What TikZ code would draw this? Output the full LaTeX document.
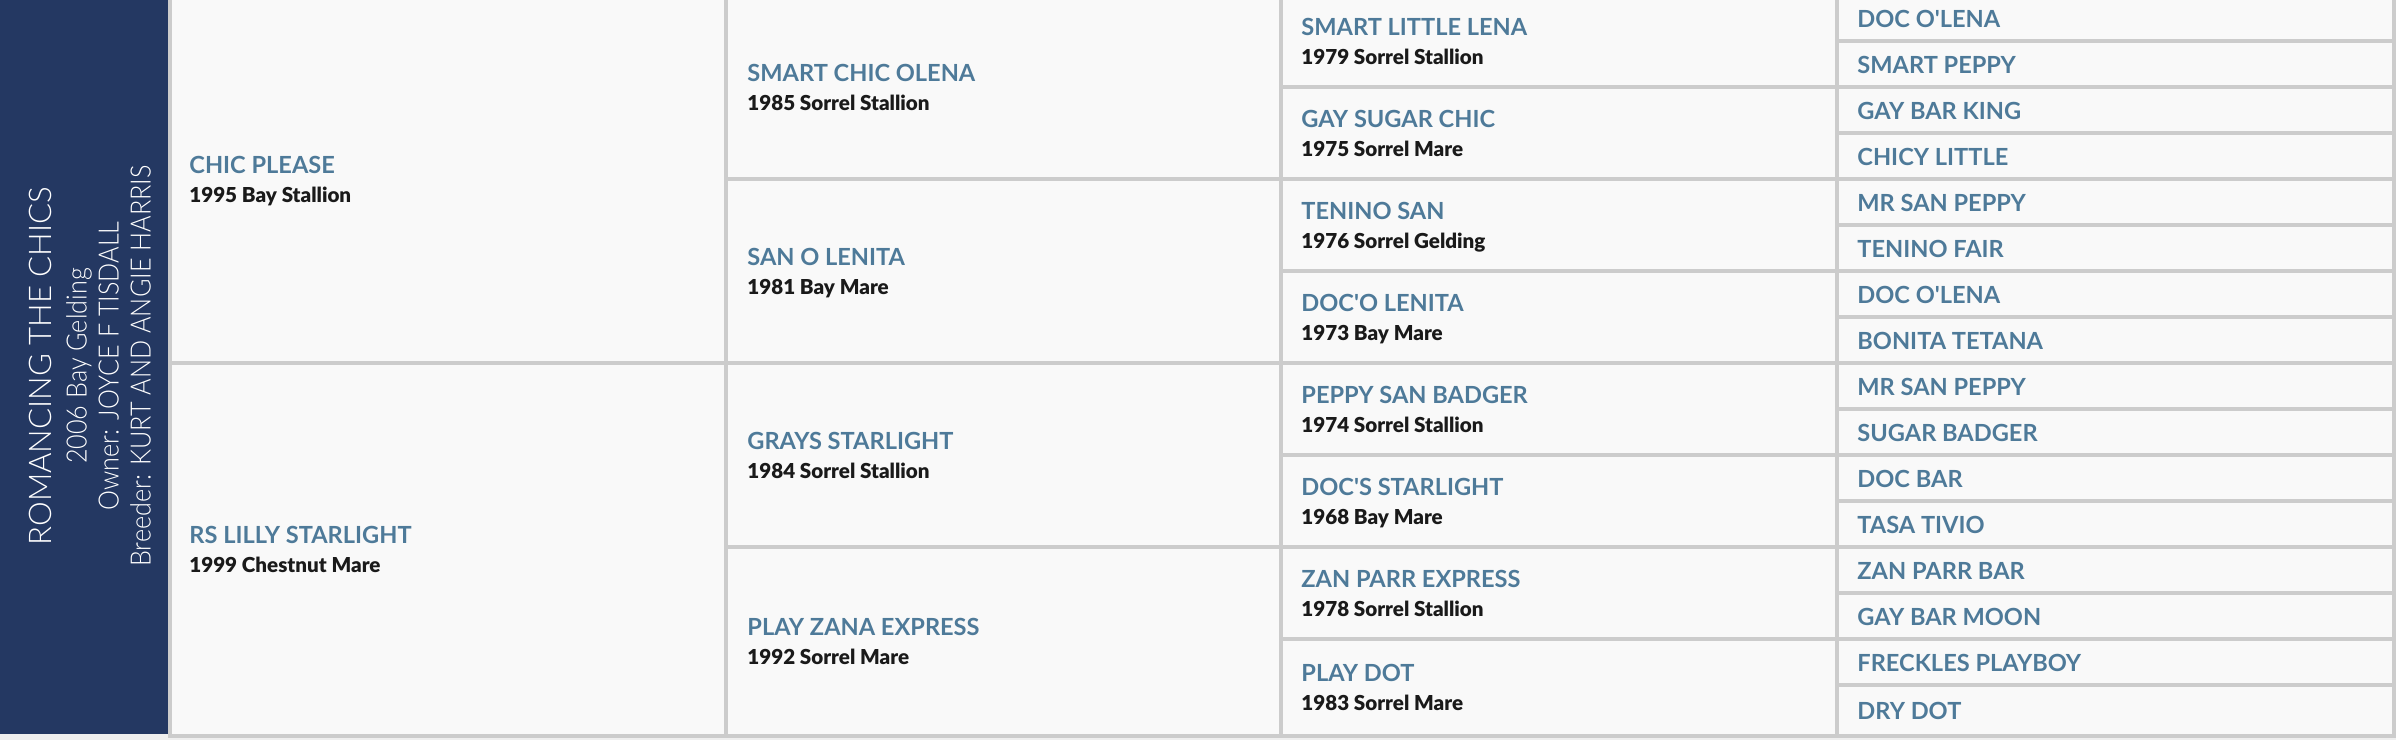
\documentclass[tikz,border=0pt]{standalone}
\usepackage{fontspec}
\setmainfont{Lato}
\newfontfamily\panelfont{Lato Light}
\newfontfamily\panelnarrow[FakeStretch=0.9]{Lato Light}
\newfontfamily\yearfont{Lato Black}
\definecolor{panelbg}{HTML}{243862}
\definecolor{namecol}{HTML}{4E7A99}
\definecolor{yearcol}{HTML}{1A1A1A}
\definecolor{gridline}{HTML}{CCCCCC}
\definecolor{cellbg}{HTML}{F9F9F9}
\definecolor{pagebg}{HTML}{EFEFEF}
\begin{document}
\begin{tikzpicture}[x=0.5pt,y=-0.5pt,
  cell/.style={fill=cellbg, draw=gridline, line width=2pt},
  horse/.style={inner sep=0pt, anchor=base west, text=namecol, font=\bfseries\fontsize{11.8}{14}\selectfont},
  born/.style={inner sep=0pt, anchor=base west, text=yearcol, font=\yearfont\fontsize{10.3}{14}\selectfont}]
\useasboundingbox (0,0) rectangle (2396,740);
\fill [pagebg] (0,0) rectangle (2396,740);
% left panel
\fill [panelbg] (0,-5) rectangle (168,733.5);
\node[rotate=90, align=center, text=white, font=\panelnarrow\fontsize{14}{16}\selectfont] (subject) at (90,366)
  {{\panelfont\fontsize{15.6}{16}\selectfont ROMANCING THE CHICS}\\[1.5pt]
   2006 Bay Gelding\\
   Owner: JOYCE F TISDALL\\
   Breeder: KURT AND ANGIE HARRIS};
% sire and dam
\filldraw [cell] (170,-5) rectangle (725.5,363);
\filldraw [cell] (170,363) rectangle (725.5,735.5);
% grandparents
\filldraw [cell] (725.5,-5) rectangle (1281,179);
\filldraw [cell] (725.5,179) rectangle (1281,363);
\filldraw [cell] (725.5,363) rectangle (1281,547);
\filldraw [cell] (725.5,547) rectangle (1281,735.5);
% great-grandparents
\filldraw [cell] (1281,-5) rectangle (1836.5,87);
\filldraw [cell] (1281,87) rectangle (1836.5,179);
\filldraw [cell] (1281,179) rectangle (1836.5,271);
\filldraw [cell] (1281,271) rectangle (1836.5,363);
\filldraw [cell] (1281,363) rectangle (1836.5,455);
\filldraw [cell] (1281,455) rectangle (1836.5,547);
\filldraw [cell] (1281,547) rectangle (1836.5,639);
\filldraw [cell] (1281,639) rectangle (1836.5,735.5);
% fourth generation
\filldraw [cell] (1836.5,-5) rectangle (2394,41);
\filldraw [cell] (1836.5,41) rectangle (2394,87);
\filldraw [cell] (1836.5,87) rectangle (2394,133);
\filldraw [cell] (1836.5,133) rectangle (2394,179);
\filldraw [cell] (1836.5,179) rectangle (2394,225);
\filldraw [cell] (1836.5,225) rectangle (2394,271);
\filldraw [cell] (1836.5,271) rectangle (2394,317);
\filldraw [cell] (1836.5,317) rectangle (2394,363);
\filldraw [cell] (1836.5,363) rectangle (2394,409);
\filldraw [cell] (1836.5,409) rectangle (2394,455);
\filldraw [cell] (1836.5,455) rectangle (2394,501);
\filldraw [cell] (1836.5,501) rectangle (2394,547);
\filldraw [cell] (1836.5,547) rectangle (2394,593);
\filldraw [cell] (1836.5,593) rectangle (2394,639);
\filldraw [cell] (1836.5,639) rectangle (2394,685);
\filldraw [cell] (1836.5,685) rectangle (2394,735.5);
% names, generation 1
\node[horse] (chicplease) at (189,173) {CHIC PLEASE};
\node[born] (chicplease-y) at ([yshift=-14.5pt]chicplease.base west) {1995 Bay Stallion};
\node[horse] (rslilly) at (189,543) {RS LILLY STARLIGHT};
\node[born] (rslilly-y) at ([yshift=-14.5pt]rslilly.base west) {1999 Chestnut Mare};
% generation 2
\node[horse] (smartchic) at (747,81) {SMART CHIC OLENA};
\node[born] (smartchic-y) at ([yshift=-14.5pt]smartchic.base west) {1985 Sorrel Stallion};
\node[horse] (sanolenita) at (747,265) {SAN O LENITA};
\node[born] (sanolenita-y) at ([yshift=-14.5pt]sanolenita.base west) {1981 Bay Mare};
\node[horse] (grays) at (747,449) {GRAYS STARLIGHT};
\node[born] (grays-y) at ([yshift=-14.5pt]grays.base west) {1984 Sorrel Stallion};
\node[horse] (playzana) at (747,635) {PLAY ZANA EXPRESS};
\node[born] (playzana-y) at ([yshift=-14.5pt]playzana.base west) {1992 Sorrel Mare};
% generation 3
\node[horse] (smartlittle) at (1301,35) {SMART LITTLE LENA};
\node[born] (smartlittle-y) at ([yshift=-14.5pt]smartlittle.base west) {1979 Sorrel Stallion};
\node[horse] (gaysugar) at (1301,127) {GAY SUGAR CHIC};
\node[born] (gaysugar-y) at ([yshift=-14.5pt]gaysugar.base west) {1975 Sorrel Mare};
\node[horse] (teninosan) at (1301,219) {TENINO SAN};
\node[born] (teninosan-y) at ([yshift=-14.5pt]teninosan.base west) {1976 Sorrel Gelding};
\node[horse] (docolenita) at (1301,311) {DOC\textquotesingle O LENITA};
\node[born] (docolenita-y) at ([yshift=-14.5pt]docolenita.base west) {1973 Bay Mare};
\node[horse] (peppysan) at (1301,403) {PEPPY SAN BADGER};
\node[born] (peppysan-y) at ([yshift=-14.5pt]peppysan.base west) {1974 Sorrel Stallion};
\node[horse] (docsstar) at (1301,495) {DOC\textquotesingle S STARLIGHT};
\node[born] (docsstar-y) at ([yshift=-14.5pt]docsstar.base west) {1968 Bay Mare};
\node[horse] (zanparr) at (1301,587) {ZAN PARR EXPRESS};
\node[born] (zanparr-y) at ([yshift=-14.5pt]zanparr.base west) {1978 Sorrel Stallion};
\node[horse] (playdot) at (1301,681) {PLAY DOT};
\node[born] (playdot-y) at ([yshift=-14.5pt]playdot.base west) {1983 Sorrel Mare};
% generation 4
\node[horse] (docolena) at (1857,27) {DOC O\textquotesingle LENA};
\node[horse] (smartpeppy) at (1857,73) {SMART PEPPY};
\node[horse] (gaybarking) at (1857,119) {GAY BAR KING};
\node[horse] (chicylittle) at (1857,165) {CHICY LITTLE};
\node[horse] (mrsanpeppy) at (1857,211) {MR SAN PEPPY};
\node[horse] (teninofair) at (1857,257) {TENINO FAIR};
\node[horse] (docolenab) at (1857,303) {DOC O\textquotesingle LENA};
\node[horse] (bonita) at (1857,349) {BONITA TETANA};
\node[horse] (mrsanpeppyb) at (1857,395) {MR SAN PEPPY};
\node[horse] (sugarbadger) at (1857,441) {SUGAR BADGER};
\node[horse] (docbar) at (1857,487) {DOC BAR};
\node[horse] (tasativio) at (1857,533) {TASA TIVIO};
\node[horse] (zanparrbar) at (1857,579) {ZAN PARR BAR};
\node[horse] (gaybarmoon) at (1857,625) {GAY BAR MOON};
\node[horse] (freckles) at (1857,671) {FRECKLES PLAYBOY};
\node[horse] (drydot) at (1857,719) {DRY DOT};
\end{tikzpicture}
\end{document}
